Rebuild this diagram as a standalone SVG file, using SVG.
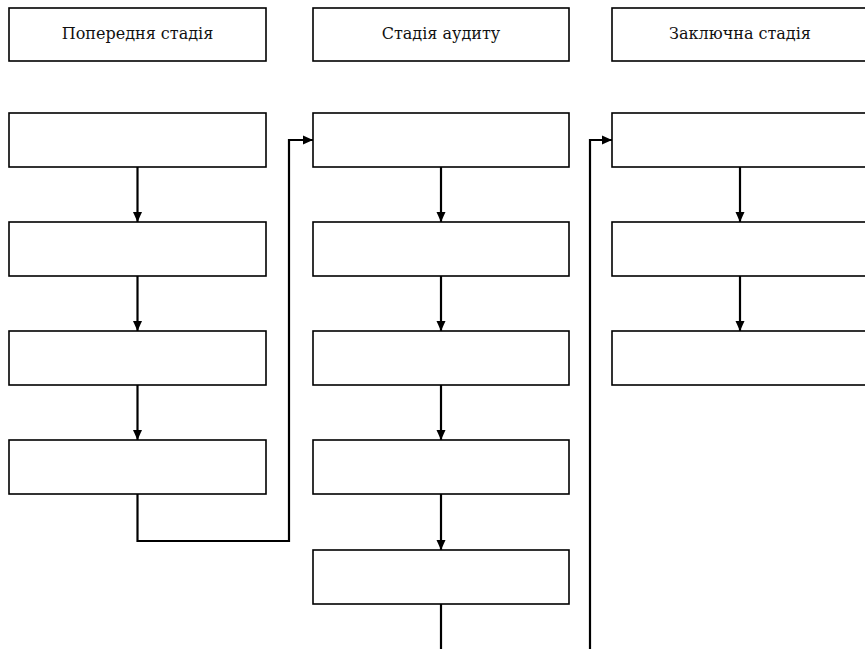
<svg xmlns="http://www.w3.org/2000/svg" width="865" height="649" viewBox="0 0 865 649">
<defs>
<style>
.box{fill:#fff;stroke:#000;stroke-width:1.6}
.lbl{font-family:"DejaVu Serif","Liberation Serif",serif;font-size:16px;fill:#111;text-anchor:middle}
.con{fill:none;stroke:#000;stroke-width:2.2}
</style>
<marker id="ah" viewBox="0 0 10 10" refX="10" refY="5" markerWidth="10" markerHeight="10" markerUnits="userSpaceOnUse" orient="auto">
<path d="M0,0.5 L10,5 L0,9.5 z" fill="#000"/>
</marker>
</defs>
<rect width="865" height="649" fill="#fff"/>
<g id="h1"><rect class="box" x="9" y="8" width="257" height="53"/><text class="lbl" x="137.5" y="39">Попередня стадія</text></g>
<g id="h2"><rect class="box" x="313" y="8" width="256" height="53"/><text class="lbl" x="441" y="39">Стадія аудиту</text></g>
<g id="h3"><rect class="box" x="612" y="8" width="256" height="53"/><text class="lbl" x="740" y="39">Заключна стадія</text></g>
<g id="c1r1"><rect class="box" x="9" y="113" width="257" height="54"/></g>
<g id="c1r2"><rect class="box" x="9" y="222" width="257" height="54"/></g>
<g id="c1r3"><rect class="box" x="9" y="331" width="257" height="54"/></g>
<g id="c1r4"><rect class="box" x="9" y="440" width="257" height="54"/></g>
<g id="c2r1"><rect class="box" x="313" y="113" width="256" height="54"/></g>
<g id="c2r2"><rect class="box" x="313" y="222" width="256" height="54"/></g>
<g id="c2r3"><rect class="box" x="313" y="331" width="256" height="54"/></g>
<g id="c2r4"><rect class="box" x="313" y="440" width="256" height="54"/></g>
<g id="c2r5"><rect class="box" x="313" y="550" width="256" height="54"/></g>
<g id="c3r1"><rect class="box" x="612" y="113" width="256" height="54"/></g>
<g id="c3r2"><rect class="box" x="612" y="222" width="256" height="54"/></g>
<g id="c3r3"><rect class="box" x="612" y="331" width="256" height="54"/></g>
<g id="connectors">
<path class="con" d="M137.5 167 V222" marker-end="url(#ah)"/>
<path class="con" d="M137.5 276 V331" marker-end="url(#ah)"/>
<path class="con" d="M137.5 385 V440" marker-end="url(#ah)"/>
<path class="con" d="M137.5 494 V541 H289 V140 H313" marker-end="url(#ah)"/>
<path class="con" d="M441 167 V222" marker-end="url(#ah)"/>
<path class="con" d="M441 276 V331" marker-end="url(#ah)"/>
<path class="con" d="M441 385 V440" marker-end="url(#ah)"/>
<path class="con" d="M441 494 V550" marker-end="url(#ah)"/>
<path class="con" d="M441 604 V649"/>
<path class="con" d="M590 649 V140 H612" marker-end="url(#ah)"/>
<path class="con" d="M740 167 V222" marker-end="url(#ah)"/>
<path class="con" d="M740 276 V331" marker-end="url(#ah)"/>
</g>
</svg>
